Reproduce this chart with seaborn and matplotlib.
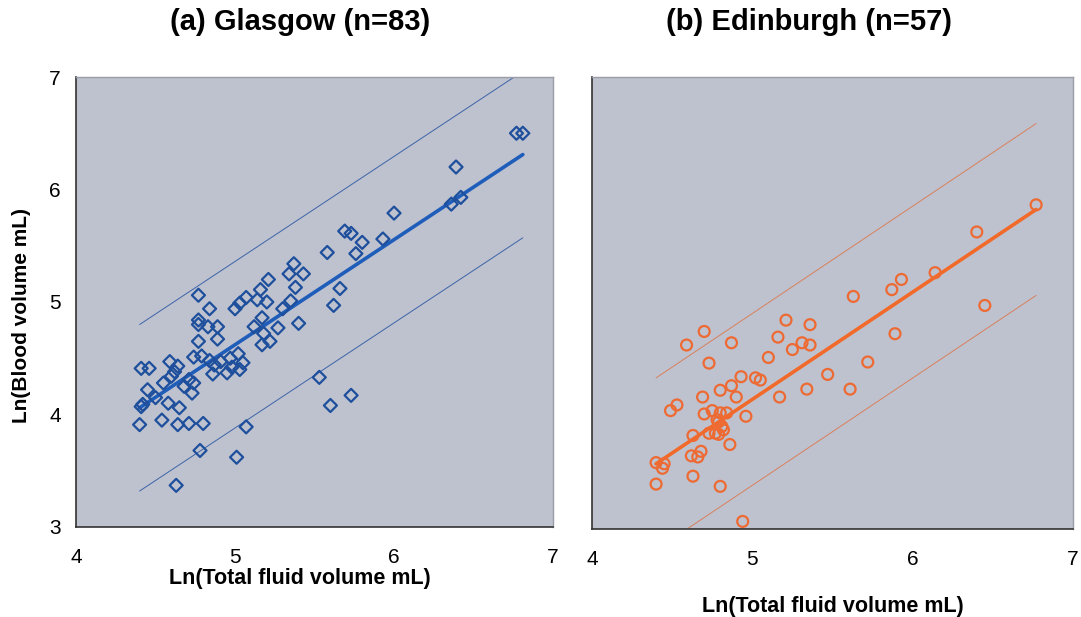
import numpy as np
import pandas as pd
import matplotlib
matplotlib.use("Agg")
import matplotlib.pyplot as plt
import seaborn as sns

# ---------------- data ----------------
glasgow_x = [6.77, 6.81, 6.39, 6.36, 6.42, 6.00, 5.93, 5.69, 5.73, 5.80,
             5.76, 5.58, 5.66, 5.62, 5.40, 5.37, 5.34, 5.43, 5.38, 5.35,
             5.30, 5.21, 5.16, 5.20, 5.14, 5.07, 5.03, 5.00, 5.17, 5.27,
             4.77, 4.84, 4.77, 4.77, 4.83, 4.89, 4.89, 4.77, 5.18, 5.22,
             5.17, 5.02, 4.74, 4.79, 4.84, 4.87, 4.91, 4.86, 4.95, 5.05,
             5.03, 4.59, 4.64, 4.41, 4.46, 4.45, 4.41, 4.42, 4.58, 4.65,
             4.73, 4.71, 4.74, 4.55, 4.60, 4.40, 4.54, 4.64, 4.71, 4.80,
             5.07, 4.78, 5.01, 4.63, 5.53, 5.60, 5.73, 4.50, 4.62, 4.68,
             4.97, 5.12, 4.98]
glasgow_y = [6.50, 6.50, 6.20, 5.87, 5.93, 5.79, 5.56, 5.63, 5.61, 5.53,
             5.43, 5.44, 5.12, 4.97, 4.81, 5.34, 5.25, 5.25, 5.13, 5.01,
             4.94, 5.20, 5.11, 5.00, 5.02, 5.04, 4.99, 4.94, 4.86, 4.77,
             5.06, 4.94, 4.84, 4.80, 4.78, 4.78, 4.67, 4.65, 4.72, 4.65,
             4.62, 4.54, 4.51, 4.52, 4.48, 4.44, 4.47, 4.36, 4.37, 4.46,
             4.40, 4.47, 4.43, 4.41, 4.41, 4.22, 4.07, 4.09, 4.10, 4.06,
             4.19, 4.31, 4.28, 4.28, 4.34, 3.91, 3.95, 3.91, 3.92, 3.92,
             3.89, 3.68, 3.62, 3.37, 4.33, 4.08, 4.17, 4.15, 4.38, 4.25,
             4.50, 4.78, 4.42]

edinburgh_x = [6.77, 6.40, 6.14, 5.87, 5.93, 5.63, 6.45, 5.89, 5.72, 5.47,
               5.34, 5.61, 5.21, 5.36, 5.16, 5.31, 5.36, 5.25, 5.10, 5.17,
               5.02, 4.93, 4.70, 4.59, 4.87, 4.73, 4.87, 4.80, 4.90, 4.69,
               4.49, 4.53, 4.75, 4.80, 4.84, 4.96, 4.79, 4.81, 4.63, 4.73,
               4.77, 4.79, 4.86, 4.62, 4.66, 4.68, 4.40, 4.44, 4.40, 4.63,
               4.80, 4.94, 4.78, 4.82, 4.70, 4.45, 5.05]
edinburgh_y = [5.87, 5.63, 5.27, 5.12, 5.21, 5.06, 4.98, 4.73, 4.48, 4.37,
               4.24, 4.24, 4.85, 4.81, 4.70, 4.65, 4.63, 4.59, 4.52, 4.17,
               4.34, 4.35, 4.75, 4.63, 4.65, 4.47, 4.27, 4.23, 4.17, 4.17,
               4.05, 4.10, 4.05, 4.03, 4.03, 4.00, 3.95, 3.91, 3.83, 3.85,
               3.85, 3.84, 3.75, 3.65, 3.64, 3.69, 3.59, 3.54, 3.40, 3.47,
               3.38, 3.07, 3.97, 3.88, 4.02, 3.58, 4.32]

# fitted regression lines and prediction-band half widths
glasgow_fit = [-0.05, 0.934, 0.74]      # intercept, slope, half width
edinburgh_fit = [-0.596, 0.949, 0.76]

titles = ["(a) Glasgow (n=83)", "(b) Edinburgh (n=57)"]
xlabel = "Ln(Total fluid volume mL)"
ylabel = "Ln(Blood volume mL)"
ticks = [4, 5, 6, 7]
yticks = [3, 4, 5, 6, 7]


def fit_frame(x, params):
    b0, b1, hw = params
    xs = np.sort(np.asarray(x, float))
    yhat = b0 + b1 * xs
    return pd.DataFrame({"x": xs, "fit": yhat, "lo": yhat - hw, "hi": yhat + hw})


sns.set_style("white")
plt.rcParams["font.family"] = ["Liberation Sans", "DejaVu Sans"]
plt.rcParams["text.color"] = "black"
plt.rcParams["axes.labelcolor"] = "black"
plt.rcParams["xtick.color"] = "black"
plt.rcParams["ytick.color"] = "black"

fig = plt.figure(figsize=(10.81, 6.17), dpi=100)
ax1 = fig.add_axes([0.0703, 0.1459, 0.4413, 0.7293])
ax2 = fig.add_axes([0.5476, 0.1421, 0.4450, 0.7330])

face = "#BEC2CF"
panels = [
    (ax1, glasgow_x, glasgow_y, glasgow_fit, "D", "#1E4F9C", "#1F5DBA", "#3C63A8"),
    (ax2, edinburgh_x, edinburgh_y, edinburgh_fit, "o", "#EE6A33", "#F26A2A", "#D9805A"),
]

for i, (ax, xs, ys, fp, mk, mcol, lcol, bcol) in enumerate(panels):
    ax.set_facecolor(face)
    df = pd.DataFrame({"x": xs, "y": ys})
    fit = fit_frame(xs, fp)
    sns.lineplot(data=fit, x="x", y="hi", ax=ax, color=bcol, lw=0.7, estimator=None)
    sns.lineplot(data=fit, x="x", y="lo", ax=ax, color=bcol, lw=0.7, estimator=None)
    sns.lineplot(data=fit, x="x", y="fit", ax=ax, color=lcol, lw=2.6, estimator=None)
    if mk == "D":
        sns.scatterplot(data=df, x="x", y="y", ax=ax, marker="D", s=44,
                        facecolor="none", edgecolor=mcol, linewidth=1.6, zorder=3)
    else:
        sns.scatterplot(data=df, x="x", y="y", ax=ax, marker="o", s=62,
                        facecolor="none", edgecolor=mcol, linewidth=1.6, zorder=3)
    ax.set_xlim(4, 7)
    ax.set_ylim(3, 7)
    ax.set_xticks(ticks)
    ax.set_yticks(yticks)
    ax.tick_params(axis="both", direction="out", length=5, width=1, color="#333333",
                   labelsize=15, labelcolor="black")
    ax.tick_params(axis="x", pad=10)
    ax.tick_params(axis="y", pad=6)
    for side in ["left", "bottom"]:
        ax.spines[side].set_color("#333333")
        ax.spines[side].set_linewidth(1.2)
    for side in ["top", "right"]:
        ax.spines[side].set_color("#9A9CA6")
        ax.spines[side].set_linewidth(1.0)
    ax.set_xlabel("")
    ax.set_ylabel("")
    if i == 1:
        ax.set_yticklabels([])

ax1.set_xlabel(xlabel, fontsize=15.5, fontweight="bold", color="black")
ax2.set_xlabel(xlabel, fontsize=15.5, fontweight="bold", color="black")
ax1.xaxis.set_label_coords(0.47, -0.092)
ax2.xaxis.set_label_coords(0.50, -0.148)
ax1.set_ylabel(ylabel, fontsize=15, fontweight="bold", color="black")
ax1.yaxis.set_label_coords(-0.094, 0.47)

fig.text(300 / 1081, 1 - 22 / 617, titles[0], ha="center", va="center",
         fontsize=21, fontweight="bold", color="black")
fig.text(809 / 1081, 1 - 22 / 617, titles[1], ha="center", va="center",
         fontsize=21, fontweight="bold", color="black")

fig.savefig("out.png", dpi=100, facecolor="white")
